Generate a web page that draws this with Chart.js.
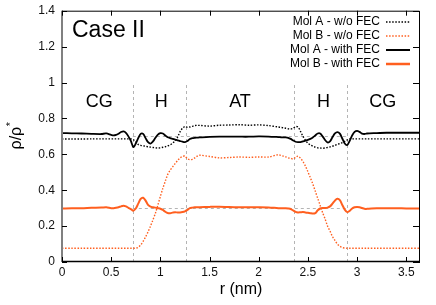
<!DOCTYPE html>
<html>
<head>
<meta charset="utf-8">
<script src="https://cdn.jsdelivr.net/npm/chart.js@4.4.1/dist/chart.umd.min.js"></script>
<style>
  html, body { margin: 0; padding: 0; background: #fff; }
  #wrap { width: 436px; height: 305px; }
</style>
</head>
<body>
<div id="wrap"><canvas id="c" width="436" height="305"></canvas></div>
<script>
// ---------- DATA ----------
const rValues = [
  0, 0.1, 0.2, 0.3, 0.4, 0.45,
  0.5, 0.525, 0.55, 0.575, 0.6, 0.625, 0.65, 0.675, 0.7, 0.725, 0.75, 0.775,
  0.8, 0.825, 0.85, 0.875, 0.9, 0.925, 0.95, 0.975, 1.0, 1.025, 1.05, 1.075,
  1.1, 1.125, 1.15, 1.175, 1.2, 1.225, 1.25, 1.275, 1.3, 1.325, 1.35, 1.375,
  1.4, 1.5, 1.6, 1.7, 1.8, 1.9, 2.0, 2.1,
  2.2, 2.225, 2.25, 2.275, 2.3, 2.325, 2.35, 2.375, 2.4, 2.425, 2.45, 2.475,
  2.5, 2.525, 2.55, 2.575, 2.6, 2.625, 2.65, 2.675, 2.7, 2.725, 2.75, 2.775,
  2.8, 2.825, 2.85, 2.875, 2.9, 2.925, 2.95, 2.975, 3.0, 3.025, 3.05, 3.075,
  3.1, 3.2, 3.3, 3.4, 3.5, 3.65
];

const molA_woFEC = [
  0.685, 0.685, 0.685, 0.686, 0.686, 0.686,
  0.686, 0.686, 0.686, 0.686, 0.686, 0.686, 0.686, 0.686, 0.686, 0.682, 0.670, 0.655,
  0.650, 0.647, 0.645, 0.642, 0.640, 0.638, 0.636, 0.635, 0.636, 0.639, 0.642, 0.647,
  0.653, 0.662, 0.675, 0.695, 0.725, 0.745, 0.755, 0.750, 0.752, 0.756, 0.760, 0.761,
  0.761, 0.757, 0.762, 0.763, 0.765, 0.762, 0.764, 0.760,
  0.752, 0.750, 0.748, 0.745, 0.742, 0.741, 0.745, 0.754, 0.752, 0.728, 0.700, 0.678,
  0.662, 0.652, 0.645, 0.640, 0.636, 0.635, 0.634, 0.635, 0.638, 0.641, 0.645, 0.650,
  0.655, 0.660, 0.665, 0.672, 0.680, 0.686, 0.686, 0.686, 0.686, 0.686, 0.686, 0.686,
  0.686, 0.686, 0.686, 0.686, 0.686, 0.686
];

const molB_woFEC = [
  0.077, 0.077, 0.077, 0.077, 0.077, 0.077,
  0.077, 0.077, 0.077, 0.077, 0.077, 0.077, 0.077, 0.077, 0.077, 0.077, 0.077, 0.082,
  0.095, 0.115, 0.140, 0.168, 0.200, 0.235, 0.272, 0.318, 0.365, 0.410, 0.450, 0.488,
  0.512, 0.530, 0.548, 0.565, 0.580, 0.588, 0.590, 0.575, 0.570, 0.572, 0.580, 0.590,
  0.595, 0.588, 0.580, 0.582, 0.585, 0.583, 0.585, 0.585,
  0.598, 0.594, 0.590, 0.586, 0.580, 0.578, 0.574, 0.583, 0.590, 0.578, 0.560, 0.535,
  0.503, 0.470, 0.435, 0.395, 0.355, 0.315, 0.275, 0.240, 0.200, 0.172, 0.142, 0.120,
  0.100, 0.088, 0.080, 0.078, 0.077, 0.077, 0.077, 0.077, 0.077, 0.077, 0.077, 0.077,
  0.077, 0.077, 0.077, 0.077, 0.077, 0.077
];

const molA_withFEC = [
  0.718, 0.717, 0.716, 0.714, 0.713, 0.716,
  0.708, 0.705, 0.708, 0.715, 0.724, 0.728, 0.720, 0.700, 0.675, 0.640, 0.660, 0.690,
  0.714, 0.714, 0.690, 0.668, 0.660, 0.672, 0.692, 0.710, 0.718, 0.716, 0.705, 0.695,
  0.690, 0.686, 0.682, 0.678, 0.674, 0.670, 0.668, 0.674, 0.685, 0.690, 0.692, 0.693,
  0.694, 0.697, 0.698, 0.698, 0.698, 0.698, 0.700, 0.699,
  0.696, 0.695, 0.694, 0.694, 0.692, 0.686, 0.677, 0.670, 0.668, 0.668, 0.672, 0.676,
  0.680, 0.686, 0.694, 0.705, 0.716, 0.716, 0.700, 0.680, 0.666, 0.672, 0.695, 0.716,
  0.724, 0.715, 0.688, 0.660, 0.652, 0.675, 0.705, 0.725, 0.731, 0.725, 0.715, 0.713,
  0.716, 0.718, 0.720, 0.720, 0.720, 0.720
];

const molB_withFEC = [
  0.298, 0.300, 0.300, 0.302, 0.303, 0.305,
  0.300, 0.300, 0.302, 0.305, 0.310, 0.313, 0.310, 0.302, 0.295, 0.286, 0.298, 0.325,
  0.352, 0.358, 0.342, 0.318, 0.308, 0.305, 0.303, 0.300, 0.297, 0.290, 0.280, 0.273,
  0.272, 0.275, 0.277, 0.276, 0.276, 0.278, 0.282, 0.290, 0.300, 0.303, 0.305, 0.305,
  0.305, 0.307, 0.308, 0.306, 0.305, 0.305, 0.305, 0.304,
  0.300, 0.300, 0.300, 0.300, 0.298, 0.295, 0.287, 0.279, 0.276, 0.277, 0.278, 0.276,
  0.274, 0.272, 0.270, 0.272, 0.288, 0.298, 0.301, 0.301, 0.303, 0.310, 0.325, 0.342,
  0.352, 0.345, 0.318, 0.292, 0.278, 0.285, 0.298, 0.305, 0.307, 0.305, 0.301, 0.297,
  0.296, 0.300, 0.299, 0.300, 0.298, 0.298
];

const seriesLabels = ['Mol A - w/o FEC', 'Mol B - w/o FEC', 'Mol A - with FEC', 'Mol B - with FEC'];
const xTickValues = [0, 0.5, 1, 1.5, 2, 2.5, 3, 3.5];
const yTickValues = [0, 0.2, 0.4, 0.6, 0.8, 1, 1.2, 1.4];
const regionBoundaries = [0.72, 1.265, 2.36, 2.90];
const referenceLevels = [0.3, 0.7];
const regionLabels = ['CG', 'H', 'AT', 'H', 'CG'];
const regionLabelR = [0.38, 1.01, 1.81, 2.66, 3.26];
const regionLabelY = 0.863;
const boundaryTop = 1.0;
const titleText = 'Case II';

// ---------- CHART ----------
const BLACK = '#000000';
const ORANGE = '#ff5f1f';
const FONT = '"Liberation Sans", Arial, Helvetica, sans-serif';

function pts(ys) { return rValues.map((r, i) => ({ x: r, y: ys[i] })); }

const styles = [
  { color: BLACK, width: 1.4, dash: [1.5, 1.6] },
  { color: ORANGE, width: 1.4, dash: [1.5, 1.6] },
  { color: BLACK, width: 1.8, dash: [] },
  { color: ORANGE, width: 2.0, dash: [] }
];
const seriesData = [molA_woFEC, molB_woFEC, molA_withFEC, molB_withFEC];

const datasets = seriesData.map((ys, i) => ({
  label: seriesLabels[i],
  data: pts(ys),
  borderColor: styles[i].color,
  backgroundColor: styles[i].color,
  borderWidth: styles[i].width,
  borderDash: styles[i].dash,
  pointRadius: 0,
  tension: 0.3,
  fill: false
}));

const decor = {
  id: 'decor',
  beforeDatasetsDraw(chart) {
    const { ctx, scales: { x, y } } = chart;
    ctx.save();
    ctx.strokeStyle = '#b4b4b4';
    ctx.lineWidth = 1;
    ctx.setLineDash([3, 3]);
    regionBoundaries.forEach(b => {
      const px = Math.round(x.getPixelForValue(b)) + 0.5;
      ctx.beginPath();
      ctx.moveTo(px, y.getPixelForValue(0));
      ctx.lineTo(px, y.getPixelForValue(boundaryTop));
      ctx.stroke();
    });
    referenceLevels.forEach(l => {
      const py = Math.round(y.getPixelForValue(l)) + 0.5;
      ctx.beginPath();
      ctx.moveTo(x.getPixelForValue(regionBoundaries[0]), py);
      ctx.lineTo(x.getPixelForValue(regionBoundaries[regionBoundaries.length - 1]), py);
      ctx.stroke();
    });
    ctx.restore();
  },
  afterDraw(chart) {
    const { ctx, chartArea: a, scales: { x, y } } = chart;
    ctx.save();
    // frame
    ctx.setLineDash([]);
    ctx.strokeStyle = '#000';
    ctx.lineWidth = 1;
    ctx.beginPath();
    ctx.moveTo(a.left, a.top + 0.5);
    ctx.lineTo(a.right - 0.5, a.top + 0.5);
    ctx.lineTo(a.right - 0.5, a.bottom);
    ctx.stroke();
    ctx.lineWidth = 1.5;
    ctx.beginPath();
    ctx.moveTo(a.left, a.bottom - 0.5);
    ctx.lineTo(a.right, a.bottom - 0.5);
    ctx.stroke();
    ctx.strokeStyle = '#808080';
    ctx.lineWidth = 2;
    ctx.beginPath();
    ctx.moveTo(a.left, a.top);
    ctx.lineTo(a.left, a.bottom);
    ctx.stroke();
    // ticks (inward, mirrored)
    ctx.strokeStyle = '#000';
    ctx.lineWidth = 1;
    const tl = 5;
    xTickValues.forEach(v => {
      const px = Math.round(x.getPixelForValue(v)) + 0.5;
      ctx.beginPath();
      ctx.moveTo(px, a.bottom); ctx.lineTo(px, a.bottom - tl);
      ctx.moveTo(px, a.top); ctx.lineTo(px, a.top + tl);
      ctx.stroke();
    });
    yTickValues.forEach(v => {
      const py = Math.round(y.getPixelForValue(v)) + 0.5;
      ctx.beginPath();
      ctx.moveTo(a.left, py); ctx.lineTo(a.left + tl, py);
      ctx.moveTo(a.right, py); ctx.lineTo(a.right - tl - 2, py);
      ctx.stroke();
    });
    // title inside plot
    ctx.fillStyle = '#000';
    ctx.font = '23px ' + FONT;
    ctx.textAlign = 'left';
    ctx.textBaseline = 'alphabetic';
    ctx.fillText(titleText, 72, 37);
    // region labels
    ctx.font = '18px ' + FONT;
    ctx.textAlign = 'center';
    regionLabels.forEach((t, i) => {
      ctx.fillText(t, x.getPixelForValue(regionLabelR[i]), y.getPixelForValue(regionLabelY));
    });
    // legend
    ctx.font = '12px ' + FONT;
    ctx.textAlign = 'right';
    ctx.textBaseline = 'middle';
    chart.data.datasets.forEach((ds, i) => {
      const yy = 21.5 + i * 14;
      ctx.fillStyle = '#000';
      ctx.fillText(ds.label, 380, yy);
      ctx.strokeStyle = ds.borderColor;
      ctx.lineWidth = i === 3 ? 2.5 : (i === 2 ? 2 : 1.4);
      ctx.setLineDash(ds.borderDash || []);
      ctx.beginPath();
      ctx.moveTo(386, yy + 0.5);
      ctx.lineTo(410, yy + 0.5);
      ctx.stroke();
    });
    ctx.setLineDash([]);
    // axis titles
    ctx.fillStyle = '#000';
    ctx.font = '16px ' + FONT;
    ctx.textAlign = 'center';
    ctx.textBaseline = 'middle';
    ctx.fillText('r (nm)', (a.left + a.right) / 2, 290);
    ctx.save();
    ctx.translate(17, 136);
    ctx.rotate(-Math.PI / 2);
    const main = 'ρ/ρ';
    ctx.font = '16px ' + FONT;
    const wm = ctx.measureText(main).width;
    ctx.font = '11px ' + FONT;
    const ws = ctx.measureText('*').width;
    const start = -(wm + ws) / 2;
    ctx.textAlign = 'left';
    ctx.font = '16px ' + FONT;
    ctx.fillText(main, start, 0);
    ctx.font = '11px ' + FONT;
    ctx.fillText('*', start + wm + 0.5, -6);
    ctx.restore();
    ctx.restore();
  }
};

new Chart(document.getElementById('c'), {
  type: 'line',
  data: { datasets },
  options: {
    responsive: false,
    animation: false,
    devicePixelRatio: 1,
    layout: { padding: { top: 10.7, right: 16, left: 0, bottom: 0 } },
    plugins: { legend: { display: false }, tooltip: { enabled: false } },
    scales: {
      x: {
        type: 'linear', min: 0, max: 3.64,
        afterBuildTicks(s) { s.ticks = xTickValues.map(v => ({ value: v })); },
        afterFit(s) { s.height = 43; s.paddingLeft = 0; s.paddingRight = 0; },
        grid: { display: false, drawTicks: false },
        border: { display: false },
        ticks: { color: '#111', font: { size: 12, family: FONT }, padding: 3, maxRotation: 0,
          callback: v => String(v) }
      },
      y: {
        type: 'linear', min: 0, max: 1.4,
        afterBuildTicks(s) { s.ticks = yTickValues.map(v => ({ value: v })); },
        afterFit(s) { s.width = 62; s.paddingTop = 0; s.paddingBottom = 0; },
        grid: { display: false, drawTicks: false },
        border: { display: false },
        ticks: { color: '#111', font: { size: 12, family: FONT }, padding: 7,
          callback: v => String(v) }
      }
    }
  },
  plugins: [decor]
});
</script>
</body>
</html>
